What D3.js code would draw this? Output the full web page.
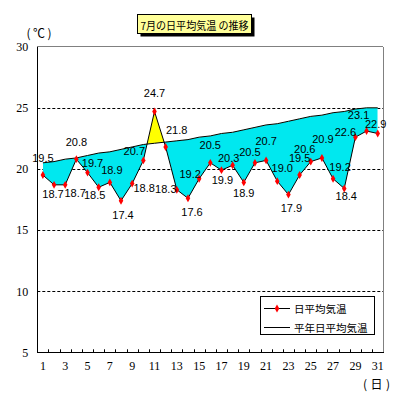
<!DOCTYPE html>
<html><head><meta charset="utf-8">
<script src="https://cdn.jsdelivr.net/npm/d3@7"></script>
<style>
html,body{margin:0;padding:0;background:#fff;}
svg{display:block;}
</style></head>
<body>
<svg id="c" width="399" height="400"></svg>
<script>
// ---- data ----
const days = d3.range(1, 32);
const dailyMean = [19.5,18.7,18.7,20.8,19.7,18.5,18.9,17.4,18.8,20.7,24.7,21.8,18.3,17.6,19.2,20.5,19.9,20.3,18.9,20.5,20.7,19.0,17.9,19.5,20.6,20.9,19.2,18.4,22.6,23.1,22.9];
const normalMean = [20.5,20.6,20.8,20.9,21.1,21.3,21.4,21.6,21.8,22.0,22.1,22.2,22.3,22.4,22.6,22.7,22.9,23.0,23.2,23.4,23.6,23.7,23.9,24.1,24.3,24.4,24.6,24.7,24.9,25.0,25.0];
const yTicks = [5,10,15,20,25,30];
const xTickLabels = days.filter(d => d % 2 === 1);
const titleText = "7月の日平均気温 の推移";
const seriesNames = ["日平均気温", "平年日平均気温"];
const yUnit = "(℃)";
const xUnit = "(日)";
// layout: manual label nudges (px) relative to each point
const labelNudge = [[0,-17],[-1,9],[10,8],[0,-17],[5,-10],[-4,8],[2,-12],[2,14],[12,4],[-9,-9],[0,-18],[11,-17],[-11,-1],[4,14],[-9,-5],[0,-18],[1,10],[-4,-7],[0,11],[-5,-11],[0,-19],[5,-13],[3,13],[0,-17],[-6,-13],[1,-19],[7,-12],[2,8],[-10,-5],[-8,-16],[-2,-9]];

// ---- layout ----
const L = 37.3, R = 383.3, T = 46.7, B = 352.3;
const svg = d3.select("#c");
const x = d3.scaleBand().domain(days).range([L, R]).padding(0);
const cx = d => x(d) + x.bandwidth() / 2;
const y = d3.scaleLinear().domain([5, 30]).range([B, T]);

const pts = days.map((d, i) => ({d, a: dailyMean[i], n: normalMean[i]}));

// clip paths: below normal and above normal
const defs = svg.append("defs");
const normLine = d3.line().x(p => cx(p.d)).y(p => y(p.n));
defs.append("clipPath").attr("id", "below")
  .append("path")
  .attr("d", d3.area().x(p => cx(p.d)).y0(B + 5).y1(p => y(p.n))(pts));
defs.append("clipPath").attr("id", "above")
  .append("path")
  .attr("d", d3.area().x(p => cx(p.d)).y0(T - 20).y1(p => y(p.n))(pts));

// gridlines
svg.append("g").selectAll("line").data(yTicks.filter(v => v > 5 && v < 30)).join("line")
  .attr("x1", L).attr("x2", R).attr("y1", d => Math.round(y(d)) + 0.5).attr("y2", d => Math.round(y(d)) + 0.5)
  .attr("stroke", "#000").attr("stroke-width", 1).attr("stroke-dasharray", "3,2");

// fills
const between = d3.area().x(p => cx(p.d)).y0(p => y(p.n)).y1(p => y(p.a));
svg.append("path").attr("d", between(pts)).attr("fill", "#00E8EF").attr("clip-path", "url(#below)");
svg.append("path").attr("d", between(pts)).attr("fill", "#FFFF00").attr("clip-path", "url(#above)");

// frame
svg.append("line").attr("x1", L).attr("x2", R).attr("y1", T).attr("y2", T).attr("stroke", "#808080").attr("shape-rendering", "crispEdges");
svg.append("line").attr("x1", R).attr("x2", R).attr("y1", T).attr("y2", B).attr("stroke", "#808080").attr("shape-rendering", "crispEdges");

// lines
svg.append("path").attr("d", normLine(pts)).attr("fill", "none").attr("stroke", "#000").attr("stroke-width", 1);
svg.append("path").attr("d", d3.line().x(p => cx(p.d)).y(p => y(p.a))(pts)).attr("fill", "none").attr("stroke", "#000").attr("stroke-width", 1);

// axes
const yAxis = svg.append("g").attr("transform", `translate(${L},0)`)
  .call(d3.axisLeft(y).tickValues(yTicks).tickSize(0).tickPadding(9));
yAxis.select(".domain").attr("stroke", "#000").attr("shape-rendering", "crispEdges");
yAxis.selectAll("text").attr("font-family", "Liberation Serif").attr("font-size", 12).attr("fill", "#000");

const xAxis = svg.append("g").attr("transform", `translate(0,${B})`)
  .call(d3.axisBottom(x).tickValues(xTickLabels).tickSize(0).tickPadding(9));
xAxis.select(".domain").attr("stroke", "#000").attr("shape-rendering", "crispEdges");
xAxis.selectAll("text").attr("font-family", "Liberation Serif").attr("font-size", 12).attr("fill", "#000");
// inner tick marks at category boundaries
svg.append("g").selectAll("line").data(days.slice(1)).join("line")
  .attr("x1", d => Math.round(x(d)) + 0.5).attr("x2", d => Math.round(x(d)) + 0.5)
  .attr("y1", B).attr("y2", B - 3).attr("stroke", "#000");

// markers
svg.append("g").selectAll("path").data(pts).join("path")
  .attr("d", d3.symbol(d3.symbolDiamond, 18)())
  .attr("transform", p => `translate(${cx(p.d)},${y(p.a)})`)
  .attr("fill", "#FF0000");

// data labels
svg.append("g").selectAll("text").data(pts).join("text")
  .attr("x", (p, i) => cx(p.d) + labelNudge[i][0])
  .attr("y", (p, i) => y(p.a) + labelNudge[i][1])
  .attr("text-anchor", "middle").attr("dominant-baseline", "central")
  .attr("font-family", "Liberation Sans").attr("font-size", 11).attr("fill", "#000")
  .text(p => p.a.toFixed(1));

// unit labels
svg.append("text").attr("x", 39).attr("y", 32).attr("text-anchor", "middle").attr("dominant-baseline", "central")
  .attr("font-family", "Noto Sans CJK JP").attr("font-size", 12)
  .attr("textLength", 25).attr("lengthAdjust", "spacing").text(yUnit);
svg.append("text").attr("x", 376.5).attr("y", 383).attr("text-anchor", "middle").attr("dominant-baseline", "central")
  .attr("font-family", "Noto Sans CJK JP").attr("font-size", 12)
  .attr("textLength", 27).attr("lengthAdjust", "spacing").text(xUnit);

// title box
svg.append("rect").attr("x", 140.5).attr("y", 17.5).attr("width", 114).attr("height", 19).attr("fill", "#000");
svg.append("rect").attr("x", 137.5).attr("y", 14.5).attr("width", 114).attr("height", 19).attr("fill", "#FFFF99").attr("stroke", "#000");
svg.append("text").attr("x", 194.5).attr("y", 24.5).attr("text-anchor", "middle").attr("dominant-baseline", "central")
  .attr("font-family", "Noto Sans CJK JP").attr("font-size", 11)
  .attr("textLength", 108).attr("lengthAdjust", "spacingAndGlyphs").text(titleText);

// legend
const lg = svg.append("g");
lg.append("rect").attr("x", 260.5).attr("y", 296.5).attr("width", 114).attr("height", 38).attr("fill", "#fff").attr("stroke", "#000");
const rows = [308, 327];
rows.forEach((ry, i) => {
  lg.append("line").attr("x1", 264).attr("x2", 290).attr("y1", ry + 0.5).attr("y2", ry + 0.5).attr("stroke", "#000");
  if (i === 0) lg.append("path").attr("d", d3.symbol(d3.symbolDiamond, 18)()).attr("transform", `translate(277,${ry + 0.5})`).attr("fill", "#FF0000");
  lg.append("text").attr("x", 294).attr("y", ry).attr("dominant-baseline", "central")
    .attr("font-family", "Noto Sans CJK JP").attr("font-size", 10.5).attr("fill", "#000").text(seriesNames[i]);
});
</script>
</body></html>
